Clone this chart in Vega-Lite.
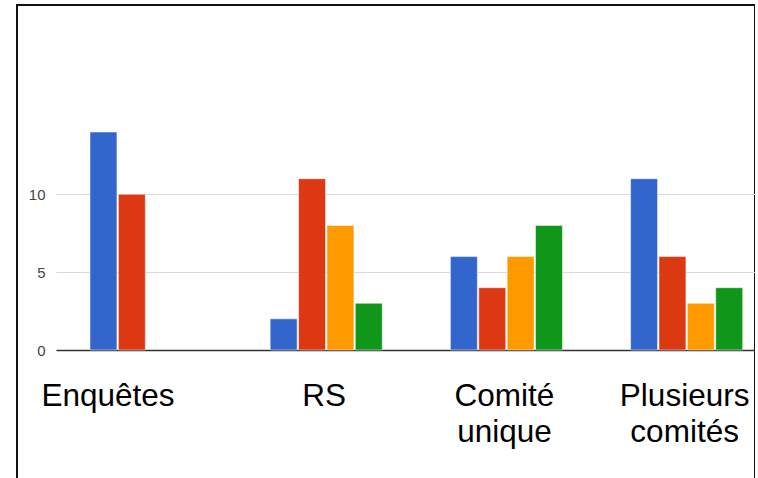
{
  "$schema": "https://vega.github.io/schema/vega-lite/v6.json",
  "width": 738,
  "height": 480,
  "padding": {"left": 17, "top": 5, "right": 0, "bottom": 0},
  "autosize": {"type": "none"},
  "background": "white",
  "config": {"view": {"stroke": "#111111", "strokeWidth": 2}, "font": "Liberation Sans"},
  "data": {
    "values": [
      {"categorie": "Enquêtes", "serie": "A", "valeur": 14},
      {"categorie": "Enquêtes", "serie": "B", "valeur": 10},
      {"categorie": "RS", "serie": "A", "valeur": 2},
      {"categorie": "RS", "serie": "B", "valeur": 11},
      {"categorie": "RS", "serie": "C", "valeur": 8},
      {"categorie": "RS", "serie": "D", "valeur": 3},
      {"categorie": "Comité unique", "serie": "A", "valeur": 6},
      {"categorie": "Comité unique", "serie": "B", "valeur": 4},
      {"categorie": "Comité unique", "serie": "C", "valeur": 6},
      {"categorie": "Comité unique", "serie": "D", "valeur": 8},
      {"categorie": "Plusieurs comités", "serie": "A", "valeur": 11},
      {"categorie": "Plusieurs comités", "serie": "B", "valeur": 6},
      {"categorie": "Plusieurs comités", "serie": "C", "valeur": 3},
      {"categorie": "Plusieurs comités", "serie": "D", "valeur": 4}
    ]
  },
  "mark": {"type": "bar", "stroke": "white", "strokeWidth": 1, "strokeOpacity": 0.5},
  "encoding": {
    "x": {
      "field": "categorie",
      "type": "nominal",
      "sort": null,
      "scale": {"range": [39, 738], "paddingInner": 0.378, "paddingOuter": 0.1285, "align": 0.734},
      "axis": {
        "title": null,
        "orient": "bottom",
        "offset": -135,
        "ticks": false,
        "tickSize": 0,
        "domain": false,
        "grid": false,
        "labelAngle": 0,
        "labelFont": "Liberation Sans",
        "labelFontSize": 31.5,
        "labelColor": "#000000",
        "labelPadding": 30,
        "labelLineHeight": 36,
        "labelExpr": "split(datum.label, ' ')",
        "labelOffset": {"condition": {"test": "datum.value === 'Enquêtes'", "value": -38}, "value": -2},
        "labelLimit": 0,
        "labelOverlap": false,
        "labelBound": false,
        "labelFlush": false
      }
    },
    "xOffset": {"field": "serie", "type": "nominal", "scale": {"domain": ["A", "B", "C", "D"], "paddingInner": 0.05, "paddingOuter": 0}},
    "y": {
      "field": "valeur",
      "type": "quantitative",
      "scale": {"domain": [0, 15], "range": [345, 111.45], "nice": false, "zero": true},
      "axis": {
        "title": null,
        "orient": "left",
        "offset": -39,
        "values": [0, 5, 10],
        "ticks": false,
        "tickSize": 0,
        "domain": false,
        "grid": true,
        "gridColor": {"condition": {"test": "datum.value === 0", "value": "#333333"}, "value": "#d9d9d9"},
        "gridWidth": {"condition": {"test": "datum.value === 0", "value": 1.3}, "value": 1},
        "labelFont": "Liberation Sans",
        "labelFontSize": 15,
        "labelColor": "#444444",
        "labelPadding": 11
      }
    },
    "color": {
      "field": "serie",
      "type": "nominal",
      "scale": {"domain": ["A", "B", "C", "D"], "range": ["#3366cc", "#dc3912", "#ff9900", "#109618"]},
      "legend": null
    }
  }
}
